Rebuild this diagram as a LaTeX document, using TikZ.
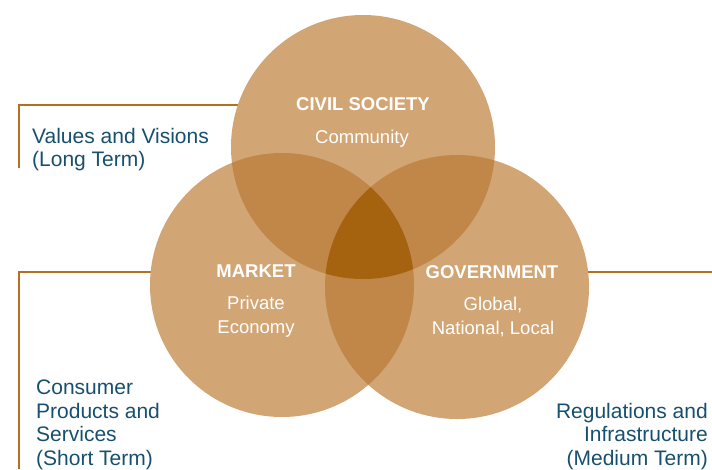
\documentclass[tikz,border=0pt]{standalone}
\usepackage{fontspec}
\setmainfont{Liberation Sans}
\definecolor{onefill}{HTML}{D2A574}
\definecolor{twofill}{HTML}{C08748}
\definecolor{threefill}{HTML}{A5620F}
\definecolor{rulecol}{HTML}{B5701F}
\definecolor{labeltext}{HTML}{17506E}
\tikzset{
  connector/.style={draw=rulecol, line width=2pt},
  sidelabel/.style={inner sep=0pt, text=labeltext, font=\fontsize{21}{23.5}\selectfont},
  circtitle/.style={inner sep=0pt, anchor=base, text=white, font=\fontsize{18.5}{24}\selectfont\bfseries},
  circsub/.style={inner sep=0pt, text=white, align=center, font=\fontsize{18.5}{24}\selectfont},
}
\begin{document}
\begin{tikzpicture}[x=1pt,y=-1pt]
\useasboundingbox (0,0) rectangle (712,469);
% centres
\coordinate (ctop) at (363,147);
\coordinate (cleft) at (282,285);
\coordinate (cright) at (457,287);
\def\R{132}
% connector corners and ends
\coordinate (vtopend) at (19,168);
\coordinate (vtopcorner) at (19,105);
\coordinate (vtopcirc) at (240,105);
\coordinate (lend) at (19,469);
\coordinate (lcorner) at (19,272);
\coordinate (lcirc) at (153,272);
\coordinate (rend) at (712,272);
\coordinate (rcirc) at (586,272);
\draw[connector] (vtopend) -- (vtopcorner) -- (vtopcirc);
\draw[connector] (lend) -- (lcorner) -- (lcirc);
\draw[connector] (rend) -- (rcirc);
% circles
\fill[onefill] (ctop) circle[radius=\R];
\fill[onefill] (cleft) circle[radius=\R];
\fill[onefill] (cright) circle[radius=\R];
\begin{scope}
  \clip (ctop) circle[radius=\R];
  \fill[twofill] (cleft) circle[radius=\R];
  \fill[twofill] (cright) circle[radius=\R];
\end{scope}
\begin{scope}
  \clip (cleft) circle[radius=\R];
  \fill[twofill] (cright) circle[radius=\R];
\end{scope}
\begin{scope}
  \clip (ctop) circle[radius=\R];
  \clip (cleft) circle[radius=\R];
  \fill[threefill] (cright) circle[radius=\R];
\end{scope}
% circle texts
\node[circtitle] (civil) at (363,110) {CIVIL SOCIETY};
\node[circsub, anchor=base] (community) at (362,143) {Community};
\node[circtitle] (market) at (256,277) {MARKET};
\node[circsub, anchor=north] (private) at (256,296) {Private\\Economy};
\node[circtitle] (gov) at (492,278) {GOVERNMENT};
\node[circsub, anchor=north] (global) at (493,296.5) {Global,\\National, Local};
% side labels
\node[sidelabel, anchor=north west, align=left] (values) at (32,128) {Values and Visions\\(Long Term)};
\node[sidelabel, anchor=north west, align=left] (consumer) at (36,380) {Consumer\\Products and\\Services\\(Short Term)};
\node[sidelabel, anchor=north east, align=right] (regs) at (708,403) {Regulations and\\Infrastructure\\(Medium Term)};
\end{tikzpicture}
\end{document}
